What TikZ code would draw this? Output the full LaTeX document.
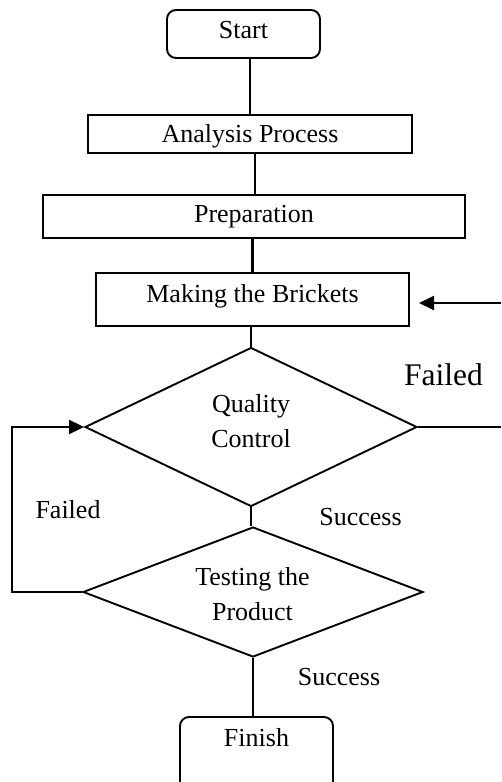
\documentclass[tikz,border=0pt]{standalone}
\usepackage{fontspec}
\setmainfont{Liberation Serif}
\usetikzlibrary{shapes.geometric,arrows.meta}
\begin{document}
\begin{tikzpicture}[x=1pt,y=-1pt,
  line width=1.9pt,
  txt/.style={font=\fontsize{26}{34.5}\selectfont},
  box/.style={draw, rectangle, inner sep=0pt, anchor=base, txt, line width=1.9pt},
  rbox/.style={box, rounded corners=9pt},
  dia/.style={draw, diamond, inner sep=0pt, line width=1.9pt},
  lbl/.style={txt, anchor=base, inner sep=0pt, align=center},
  arr/.style={-{Triangle[length=15pt,width=14pt]}}
]
\useasboundingbox (0,0) rectangle (501,782);
\clip (0,0) rectangle (501,782);

% boxes (anchor=base at baseline; text height/depth set the box top/bottom)
\node[rbox, minimum width=153pt, text height=28pt, text depth=20pt] (st) at (243.5,38) {Start};
\node[box, minimum width=324pt, text height=27pt, text depth=11pt] (an) at (250,142) {Analysis Process};
\node[box, minimum width=422pt, text height=27pt, text depth=16pt] (pr) at (254,222) {Preparation};
\node[box, minimum width=313pt, text height=29pt, text depth=24pt] (mk) at (252.5,302) {Making the Brickets};
\node[rbox, minimum width=153pt, text height=29pt, text depth=60pt] (fi) at (256.5,746) {Finish};

% decisions
\node[dia, minimum width=332pt, minimum height=159pt] (qc) at (251,427) {};
\node[lbl] (qct) at (251,447) {Quality\\Control};
\node[dia, minimum width=340pt, minimum height=130pt] (te) at (253,592) {};
\node[lbl] (tet) at (252.5,620) {Testing the\\Product};

% labels
\node[lbl] (f1) at (68,518) {Failed};
\node[lbl] (s1) at (360.5,525) {Success};
\node[lbl] (s2) at (339,685) {Success};
\node[lbl, font=\fontsize{31.5}{36}\selectfont] (f2) at (443.5,385) {Failed};

% free ends
\coordinate (rin) at (501,303);
\coordinate (rtip) at (419,303);
\coordinate (qout) at (501,427);
\coordinate (fb) at (12,0);

% connectors
\draw (an.north |- st.south) -- (an.north);
\draw ([xshift=5pt]an.south) -- ([xshift=5pt]an.south |- pr.north);
\draw[line width=3.5pt] (mk.north |- pr.south) -- (mk.north);
\draw (qc.north |- mk.south) -- (qc.north);
\draw (qc.south) -- (qc.south |- te.north);
\draw (te.south) -- (te.south |- fi.north);
\draw[arr] (rin) -- (rtip);
\draw (qc.east) -- (qout);
\draw[arr] (te.west) -- (te.west -| fb) -- (qc.west -| fb) -- (qc.west);
\end{tikzpicture}
\end{document}
